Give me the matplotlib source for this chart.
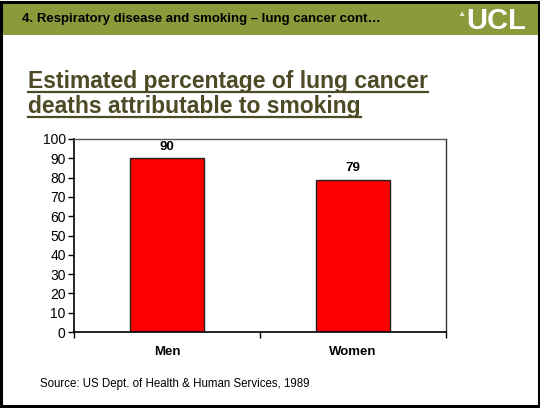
import matplotlib
matplotlib.use("Agg")
import matplotlib.pyplot as plt
from matplotlib.patches import Rectangle
from matplotlib.lines import Line2D

categories = ["Men", "Women"]
values = [90, 79]
yticks = [0, 10, 20, 30, 40, 50, 60, 70, 80, 90, 100]
header = "4. Respiratory disease and smoking \u2013 lung cancer cont\u2026"
title_lines = ["Estimated percentage of lung cancer", "deaths attributable to smoking"]
source = "Source: US Dept. of Health & Human Services, 1989"

plt.rcParams['font.family'] = ['Liberation Sans', 'DejaVu Sans']

W, H = 540, 408
fig = plt.figure(figsize=(W / 100, H / 100), dpi=100)
fig.patch.set_facecolor('white')

def fx(x):
    return x / W

def fy(y):
    return 1 - y / H

# header band
fig.patches.append(Rectangle((0, fy(35)), 1, (35 - 2) / H, transform=fig.transFigure,
                             facecolor='#8b9a3b', edgecolor='none', zorder=0))
fig.text(fx(22), fy(19), header, fontsize=9.5, fontweight='bold', color='black',
         va='center', ha='left')
fig.text(fx(466), fy(21), "UCL", fontsize=21, fontweight='bold', color='white',
         va='center', ha='left')
fig.text(fx(461), fy(15), "\u25b2", fontsize=6, color='#e8ecd0', va='center', ha='center')

# title with underline
title_color = '#4d4a26'
baselines = [88, 113]
fig.canvas.draw()
renderer = fig.canvas.get_renderer()
for line, yb in zip(title_lines, baselines):
    t = fig.text(fx(28), fy(yb), line, fontsize=16.5, fontweight='bold', color=title_color,
                 va='baseline', ha='left')
    bb = t.get_window_extent(renderer=renderer)
    x0 = bb.x0 / fig.bbox.width
    x1 = bb.x1 / fig.bbox.width
    fig.add_artist(Line2D([x0, x1], [fy(yb + 4), fy(yb + 4)], transform=fig.transFigure,
                          color=title_color, linewidth=1.6))

# axes
ax = fig.add_axes([fx(74), fy(332), fx(446) - fx(74), (332 - 139) / H])
x = list(range(len(categories)))
bars = ax.bar(x, values, width=0.4, color='#ff0000', edgecolor='#222222', linewidth=1.0,
              zorder=2)
ax.set_xlim(-0.5, len(categories) - 0.5)
ax.set_ylim(0, 100)
ax.set_yticks(yticks)
ax.set_yticklabels([str(v) for v in yticks], fontsize=10)
ax.set_xticks(x)
ax.set_xticklabels(categories, fontsize=9.5, fontweight='bold')
ax.tick_params(axis='x', which='major', length=0, pad=10)
ax.set_xticks([i - 0.5 for i in range(len(categories) + 1)], minor=True)
ax.tick_params(axis='x', which='minor', length=4, width=1, direction='out', color='black')
ax.tick_params(axis='y', length=4, width=1, direction='out', pad=2, color='black')
for s in ['left', 'bottom']:
    ax.spines[s].set_color('black')
    ax.spines[s].set_linewidth(1.2)
ax.spines['top'].set_color('#555555')
ax.spines['top'].set_linewidth(1.0)
ax.spines['right'].set_color('#333333')
ax.spines['right'].set_linewidth(1.0)
for b, v in zip(bars, values):
    ax.annotate(str(v), (b.get_x() + b.get_width() / 2, v), xytext=(0, 4),
                textcoords='offset points', ha='center', va='bottom', fontsize=9.5,
                fontweight='bold')

fig.text(fx(40), fy(384), source, fontsize=8.3, color='black', va='center', ha='left')

# outer border
fig.patches.append(Rectangle((fx(1), fy(406)), fx(538), (405 - 1) / H, transform=fig.transFigure,
                             facecolor='none', edgecolor='black', linewidth=2.2, zorder=10))

fig.savefig("out.png", dpi=100)
